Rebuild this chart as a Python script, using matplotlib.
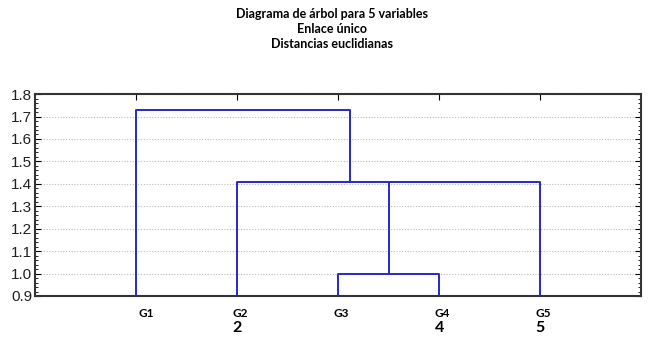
import matplotlib.pyplot as plt
from matplotlib.ticker import MultipleLocator

# leaves of the tree and their order on the x axis
leaves = ["G1", "G2", "G3", "G4", "G5"]
extra_labels = ["", "2", "", "4", "5"]

# single-linkage merges (euclidean distances)
h_g3_g4 = 1.00
h_g2_g5 = 1.41
h_g1 = 1.73
# x where the G2..G5 cluster hangs from the top link (as drawn by the software)
anchor_g2_g5 = 3.12

yticks = [0.9, 1.0, 1.1, 1.2, 1.3, 1.4, 1.5, 1.6, 1.7, 1.8]

fig = plt.figure(figsize=(6.49, 3.41), dpi=100)
ax = fig.add_axes([0.054, 0.132, 0.934, 0.592])

pos = {name: i + 1 for i, name in enumerate(leaves)}
base = yticks[0]
col = "#2828cc"
lw = 1.4

# G3 + G4
x34 = (pos["G3"] + pos["G4"]) / 2
ax.plot([pos["G3"], pos["G3"], pos["G4"], pos["G4"]],
        [base, h_g3_g4, h_g3_g4, base], color=col, lw=lw)
# G2 + (G3,G4) + G5
ax.plot([pos["G2"], pos["G2"], pos["G5"], pos["G5"]],
        [base, h_g2_g5, h_g2_g5, base], color=col, lw=lw)
ax.plot([x34, x34], [h_g3_g4, h_g2_g5], color=col, lw=lw)
# G1 + rest
ax.plot([pos["G1"], pos["G1"], anchor_g2_g5, anchor_g2_g5],
        [base, h_g1, h_g1, h_g2_g5], color=col, lw=lw)

ax.set_xlim(0, 6)
ax.set_ylim(yticks[0], yticks[-1])
ax.set_yticks(yticks)
ax.set_yticklabels([f"{v:.1f}" for v in yticks], family="Liberation Sans",
                   fontsize=11, color="#222222")
ax.yaxis.set_minor_locator(MultipleLocator(0.02))
ax.grid(axis="y", linestyle=(0, (1, 1.5)), color="#bbbbbb", lw=0.8)
ax.tick_params(axis="y", which="major", direction="in", length=4, pad=2, right=True)
ax.tick_params(axis="y", which="minor", direction="in", length=2, right=True)

ax.set_xticks(list(pos.values()))
ax.set_xticklabels([])
ax.tick_params(axis="x", direction="in", length=4, top=True, bottom=False)

for s in ax.spines.values():
    s.set_linewidth(1.5)
    s.set_color("#333333")

for name, extra in zip(leaves, extra_labels):
    dx = 0.1 if name == "G1" else 0.03
    ax.text(pos[name] + dx, -0.085, name, transform=ax.get_xaxis_transform(),
            ha="center", va="center", fontsize=8.5, fontweight="bold", family="Lato")
    if extra:
        ax.text(pos[name], -0.16, extra, transform=ax.get_xaxis_transform(),
                ha="center", va="center", fontsize=11.5, fontweight="bold", family="Lato")

fig.text(0.512, 0.958, "Diagrama de árbol para 5 variables", ha="center", va="center",
         fontsize=9, fontweight="bold", family="Lato")
fig.text(0.512, 0.914, "Enlace único", ha="center", va="center",
         fontsize=9, fontweight="bold", family="Lato")
fig.text(0.512, 0.870, "Distancias euclidianas", ha="center", va="center",
         fontsize=9, fontweight="bold", family="Lato")

fig.savefig("out.png", dpi=100)
plt.close(fig)
